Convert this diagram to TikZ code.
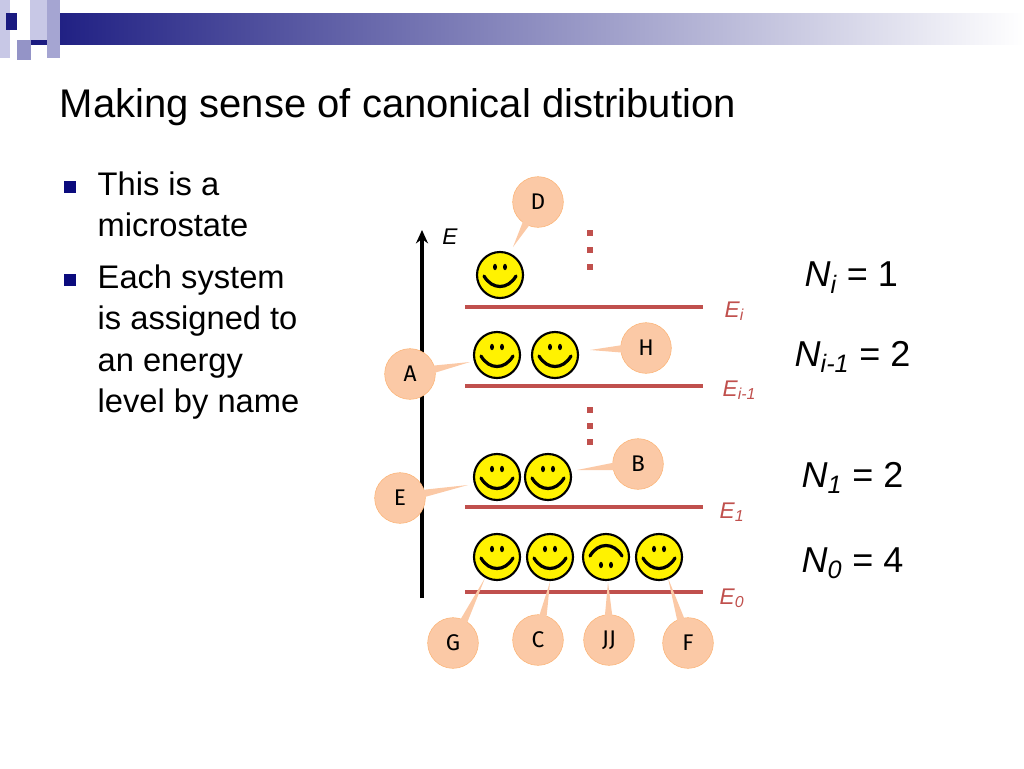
\documentclass[tikz,border=0pt]{standalone}
\usepackage{fontspec}
\setmainfont{Liberation Sans}
\newfontfamily\comicf{Fira Sans}
\usetikzlibrary{arrows.meta,calc}
\definecolor{navy}{HTML}{1A1A80}
\definecolor{lvl}{HTML}{C0504D}
\definecolor{peach}{HTML}{FBC9A6}
\definecolor{lav}{HTML}{C8C8E6}
\tikzset{
 lvline/.style={lvl,line width=2.4pt},
 lvlab/.style={lvl,font=\fontsize{17}{17}\selectfont\itshape,anchor=west},
 nlab/.style={font=\fontsize{27}{27}\selectfont,anchor=west},
 bul/.style={fill=navy!60!blue!70!black,minimum size=9pt,inner sep=0pt},
 btxt/.style={font=\fontsize{24.5}{31}\selectfont,anchor=north west,align=left},
 callc/.style={circle,draw=peach!70!orange,fill=peach,minimum size=38pt,inner sep=0pt,font=\comicf\fontsize{17}{17}\selectfont},
 smile/.pic={
   \draw[fill=yellow,line width=1.6pt] (0,0) circle (23);
   \fill (-5,-8) ellipse (2 and 3.2); \fill (5,-8) ellipse (2 and 3.2);
   \draw[line width=2.4pt,line cap=round] (-16,1) .. controls (-8,15) and (8,15) .. (16,1);
 },
 dotm/.style={fill=lvl,minimum size=5pt,inner sep=0pt}
}
\newcommand{\callout}[4]{% name, pos, text, pointer
 \coordinate (#1p) at #4;
 \node[callc] (#1) at #2 {#3};
 \fill[peach] ($(#1)!18pt!9:(#1p)$) -- (#1p) -- ($(#1)!18pt!-9:(#1p)$) -- cycle;
}
\begin{document}
\begin{tikzpicture}[x=0.75pt,y=-0.75pt]
\useasboundingbox (0,0) rectangle (1024,768);
% header
\shade[left color=navy,right color=white] (30,13) rectangle (1024,44);
\fill[lav] (0,0) rectangle (10,58);
\fill[lav!80!navy] (47,0) rectangle (60,58);
\fill[lav] (30,0) rectangle (47,40);
\fill[lav!70!navy] (17,40) rectangle (31,60);
\fill[navy] (6,13) rectangle (17,30);
% title
\node[anchor=west,font=\fontsize{30}{30}\selectfont] (title) at (55,107) {Making sense of canonical distribution};
% bullets
\node[bul] (b1) at (70,187) {};
\node[bul] (b2) at (70,280) {};
\node[btxt] (t1) at (93,167) {This is a\\microstate};
\node[btxt] (t2) at (93,260) {Each system\\is assigned to\\an energy\\level by name};
% axis
\coordinate (ax0) at (422,598); \coordinate (ax1) at (422,230);
\draw[line width=3pt,-{Stealth[length=10pt,width=9pt]}] (ax0) -- (ax1);
\node[font=\fontsize{17}{17}\selectfont\itshape] (Elab) at (450,237) {E};
% levels
\foreach \n/\y in {i/307,im/386,one/507,zero/592}{
 \coordinate (L\n a) at (465,\y); \coordinate (L\n b) at (703,\y);
 \draw[lvline] (L\n a) -- (L\n b);}
\node[lvlab] (Ei) at (720,311) {E\textsubscript{\itshape i}};
\node[lvlab] (Eim) at (718,390) {E\textsubscript{\itshape i-1}};
\node[lvlab] (E1) at (715,512) {E\textsubscript{\itshape 1}};
\node[lvlab] (E0) at (715,598) {E\textsubscript{\itshape 0}};
% dots
\foreach \y in {233,250,267,410,426,442} \node[dotm] at (590,\y) {};
% smileys
\pic at (500,275) {smile};
\pic at (497,355) {smile}; \pic at (555,355) {smile};
\pic at (497,477) {smile}; \pic at (548,477) {smile};
\pic at (497,557) {smile}; \pic at (550,557) {smile};
\pic[rotate=180] at (606,557) {smile}; \pic at (659,557) {smile};
% callouts
\callout{D}{(538,202)}{D}{(513,247)}
\callout{H}{(646,348)}{H}{(590,350)}
\callout{A}{(410,374)}{A}{(470,362)}
\callout{B}{(638,464)}{B}{(577,470)}
\callout{E}{(400,498)}{E}{(468,485)}
\callout{G}{(453,643)}{G}{(485,578)}
\callout{C}{(538,640)}{C}{(550,582)}
\callout{JJ}{(609,640)}{JJ}{(608,582)}
\callout{F}{(688,643)}{F}{(668,578)}
% N labels
\node[nlab] (N1) at (800,278) {\textit{N\textsubscript{i}} = 1};
\node[nlab] (N2) at (790,357) {\textit{N\textsubscript{i-1}} = 2};
\node[nlab] (N3) at (797,478) {\textit{N\textsubscript{1}} = 2};
\node[nlab] (N4) at (797,563) {\textit{N\textsubscript{0}} = 4};
\end{tikzpicture}
\end{document}
